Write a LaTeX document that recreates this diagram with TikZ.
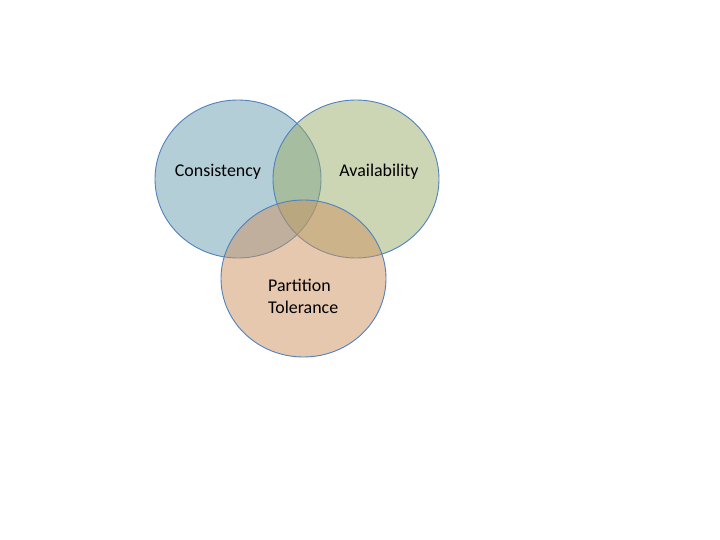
\documentclass[tikz,border=0pt]{standalone}
\usepackage{fontspec}
\setmainfont{Carlito}
\definecolor{setblue}{RGB}{105,157,177}
\definecolor{setgreen}{RGB}{153,172,105}
\definecolor{setorange}{RGB}{205,146,96}
\definecolor{rimblue}{RGB}{79,129,189}
\begin{document}
\begin{tikzpicture}[x=1bp,y=-1bp,
  setcircle/.style={draw=rimblue, line width=0.9bp, fill opacity=0.5},
  setlabel/.style={font=\fontsize{18}{22}\selectfont, text=black, inner sep=0pt}]
  \useasboundingbox (0,0) rectangle (720,540);
  % the three overlapping sets
  \path[setcircle, fill=setblue]   (238,179) ellipse [x radius=83, y radius=79];
  \path[setcircle, fill=setgreen]  (356,179) ellipse [x radius=83, y radius=79];
  \path[setcircle, fill=setorange] (303.5,278.5) ellipse [x radius=82.5, y radius=78.5];
  % labels
  \node[setlabel, anchor=base] (c) at (218,177) {Consistency};
  \node[setlabel, anchor=base] (a) at (379,177) {Availability};
  \node[setlabel, anchor=north west, align=left] (p) at (268,279) {Partition\\Tolerance};
\end{tikzpicture}
\end{document}
